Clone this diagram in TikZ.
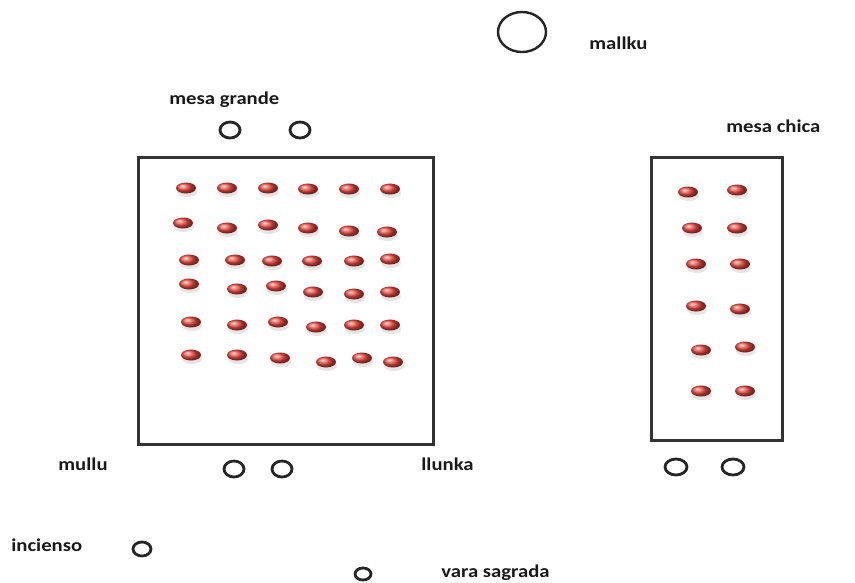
\documentclass[tikz,border=0pt]{standalone}
\usepackage{fontspec}
\setmainfont{Carlito}

\begin{document}
\begin{tikzpicture}[x=1pt,y=-1pt,line width=2.4pt,
  etiqueta/.style={font=\bfseries\fontsize{18}{20}\selectfont,text=black!90,
    xscale=1.15,inner sep=0pt,anchor=west},
  marco/.style={draw=black!80,line width=3pt},
  aro/.style={draw=black!85,line width=2.8pt}]
  \useasboundingbox (0,0) rectangle (855,582);
  \definecolor{semilla}{RGB}{240,75,65}
  % mallku
  \draw[aro,line width=2.4pt] (522,32) ellipse (24 and 20);
  \node[etiqueta] (mallku) at (588,43) {mallku};
  % mesa grande (marco 138..433 x 157..444)
  \node[etiqueta] (grande) at (168,100) {mesa grande};
  \draw[aro] (230,130) ellipse (10 and 8);
  \draw[aro] (300,130) ellipse (10 and 8);
  \draw[marco] (138,157) rectangle (433,444);
  % mesa chica
  \node[etiqueta] (chica) at (725,126) {mesa chica};
  \draw[marco] (651,157) rectangle (782,440);
  % semillas rojas
  \foreach \x/\y in {186/188,227/188,268/188,308/189,349/189,390/189,
                     183/223,227/228,268/225,308/228,349/231,387/232,
                     189/260,235/260,272/261,312/261,354/261,390/259,
                     189/284,237/289,276/286,313/292,354/294,390/292,
                     191/322,237/325,278/322,316/327,354/325,390/325,
                     191/355,237/355,280/358,326/362,362/358,393/362,
                     688/192,737/190,692/228,737/228,696/264,740/264,
                     696/306,740/309,701/350,745/347,701/391,745/391}
  {
    \fill[black,opacity=0.1] (\x+1,\y+4) ellipse (10 and 5);
    \shade[ball color=semilla] (\x,\y) ellipse (10 and 5.5);
  }
  % abajo
  \node[etiqueta] (mullu) at (57,464) {mullu};
  \draw[aro] (234,469) ellipse (10 and 8);
  \draw[aro] (282,469) ellipse (10 and 8);
  \node[etiqueta] (llunka) at (420,464) {llunka};
  \draw[aro] (676,467) ellipse (11 and 8);
  \draw[aro] (733,467) ellipse (11 and 8);
  \node[etiqueta] (incienso) at (10,545) {incienso};
  \draw[aro] (142,549) ellipse (9 and 7);
  \draw[aro] (363,574) ellipse (8 and 6);
  \node[etiqueta] (vara) at (440,573) {vara sagrada};
\end{tikzpicture}
\end{document}
